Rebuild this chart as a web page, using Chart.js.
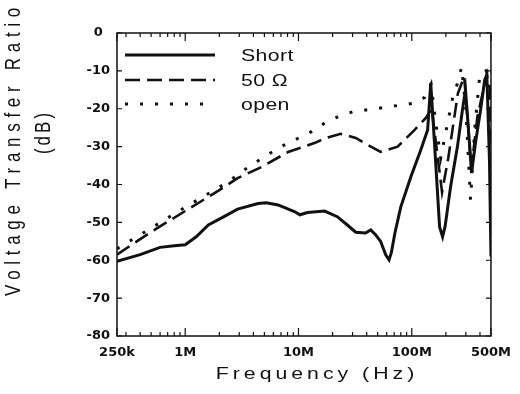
<!DOCTYPE html>
<html>
<head>
<meta charset="UTF-8">
<title>Voltage Transfer Ratio</title>
<script src="https://cdn.jsdelivr.net/npm/chart.js"></script>
<style>
  body { margin: 0; background: #fff; }
  canvas { display: block; }
</style>
</head>
<body>
<canvas id="chart" width="520" height="394"></canvas>
<script>
// frequency (Hz) and level (dB)
var freqShort = [250e3, 400e3, 600e3, 800e3, 1e6, 1.25e6, 1.6e6, 2.2e6, 2.9e6, 4.4e6, 5.2e6, 6.6e6, 9.3e6, 10.3e6, 12e6, 17e6, 22e6, 27e6, 32e6, 39e6, 43.5e6, 48e6, 53e6, 59e6, 63e6, 66e6, 71e6, 80e6, 98e6, 120e6, 138e6, 147e6, 162e6, 176e6, 187e6, 197e6, 220e6, 253e6, 280e6, 298e6, 323e6, 337e6, 365e6, 405e6, 440e6, 460e6, 485e6, 500e6];
var dbShort   = [-60.3, -58.5, -56.6, -56.2, -55.9, -53.8, -50.7, -48.5, -46.5, -45, -44.8, -45.4, -47.2, -48, -47.4, -47, -48.5, -50.7, -52.6, -52.8, -52, -53.3, -55, -58.6, -59.9, -58, -52.8, -45.9, -38, -30.9, -25.6, -13.2, -33.5, -51.2, -53.8, -51, -40.6, -30, -20.3, -15, -29, -37, -29, -20.3, -12.4, -11, -33.5, -59];

var freq50 = [250e3, 500e3, 1e6, 2e6, 2.9e6, 4.7e6, 8.1e6, 14e6, 17.5e6, 23.6e6, 32e6, 41e6, 53e6, 75e6, 106e6, 133e6, 150e6, 165e6, 185e6, 210e6, 255e6, 290e6, 315e6, 335e6, 380e6, 460e6, 490e6, 500e6];
var db50   = [-58.5, -52.5, -47, -41.5, -38.3, -35.4, -31.4, -29, -27.7, -26.6, -27.7, -29.6, -31.4, -30, -25.6, -22.4, -20, -30, -42, -33, -16, -11.5, -25, -36, -22, -11, -15, -30];

var freqOpen = [250e3, 500e3, 1e6, 2.4e6, 3.6e6, 6.6e6, 12.9e6, 17e6, 22e6, 30e6, 53e6, 106e6, 130e6, 140e6, 148e6, 160e6, 180e6, 200e6, 230e6, 255e6, 275e6, 300e6, 330e6, 360e6, 400e6, 450e6, 500e6];
var dbOpen   = [-57, -51.5, -46, -39.3, -35.4, -30.4, -26.1, -23.8, -22.2, -20.8, -19.8, -18.5, -17, -15, -13.5, -22, -33, -26, -17, -13, -9, -20, -44, -25, -10.6, -10, -12];

var seriesNames = ['Short', '50 \u03A9', 'open'];

// x tick marks (log axis) and the ones that carry a label
var xTickValues = [250e3, 300e3, 400e3, 500e3, 600e3, 700e3, 800e3, 900e3,
  1e6, 2e6, 3e6, 4e6, 5e6, 6e6, 7e6, 8e6, 9e6,
  1e7, 2e7, 3e7, 4e7, 5e7, 6e7, 7e7, 8e7, 9e7,
  1e8, 2e8, 3e8, 4e8, 5e8];
var xLabelValues = [250e3, 1e6, 1e7, 1e8, 5e8];
var xLabelTexts  = ['250k', '1M', '10M', '100M', '500M'];
var yMin = -80, yMax = 0, yStep = 10;

function points(xs, ys) {
  return xs.map(function (x, i) { return { x: x, y: ys[i] }; });
}

// text with horizontal stretch + letter spacing, like the scanned figure
function stretchText(ctx, text, x, y, o) {
  ctx.save();
  ctx.translate(x, y);
  ctx.scale(o.sx || 1, 1);
  if (o.rot) ctx.rotate(o.rot);
  ctx.font = o.font;
  ctx.letterSpacing = (o.spacing || 0) + 'px';
  ctx.fillStyle = '#111';
  ctx.textAlign = o.align || 'center';
  ctx.textBaseline = 'alphabetic';
  ctx.fillText(text, 0, 0);
  ctx.restore();
}

var framePlugin = {
  id: 'frame',
  afterDatasetsDraw: function (chart) {
    var ctx = chart.ctx, a = chart.chartArea;
    var xs = chart.scales.x, ys = chart.scales.y;
    ctx.save();
    ctx.strokeStyle = '#111';
    ctx.lineWidth = 1.5;
    ctx.setLineDash([]);
    ctx.strokeRect(a.left, a.top, a.right - a.left, a.bottom - a.top);

    // inward ticks, bottom and top
    ctx.lineWidth = 1.2;
    xTickValues.forEach(function (v) {
      var px = xs.getPixelForValue(v);
      var len = xLabelValues.indexOf(v) >= 0 ? 8 : 4;
      ctx.beginPath();
      ctx.moveTo(px, a.bottom); ctx.lineTo(px, a.bottom - len);
      ctx.moveTo(px, a.top); ctx.lineTo(px, a.top + len);
      ctx.stroke();
    });
    // inward ticks, left and right
    for (var v = yMin; v <= yMax; v += yStep) {
      var py = ys.getPixelForValue(v);
      ctx.beginPath();
      ctx.moveTo(a.left, py); ctx.lineTo(a.left + 5, py);
      ctx.moveTo(a.right, py); ctx.lineTo(a.right - 5, py);
      ctx.stroke();
    }

    // legend in the upper left of the plot
    var rows = [55, 80, 104];
    chart.data.datasets.forEach(function (ds, i) {
      ctx.strokeStyle = '#111';
      ctx.lineWidth = ds.borderWidth;
      ctx.lineCap = ds.borderCapStyle || 'butt';
      ctx.setLineDash(ds.borderDash || []);
      ctx.beginPath();
      ctx.moveTo(125, rows[i]); ctx.lineTo(215, rows[i]);
      ctx.stroke();
      stretchText(ctx, ds.label, 241, rows[i] + 6, { font: '17px "Liberation Sans", Arial', sx: 1.25, spacing: 0.3, align: 'left' });
    });
    ctx.restore();

    // axis titles
    stretchText(ctx, 'Voltage Transfer Ratio', 20, 149, { font: '17px "Liberation Sans", Arial', sx: 1.25, spacing: 5.7, rot: -Math.PI / 2 });
    stretchText(ctx, '(dB)', 50, 132, { font: '17px "Liberation Sans", Arial', sx: 1.25, spacing: 3, rot: -Math.PI / 2 });
    stretchText(ctx, 'Frequency (Hz)', 317, 379, { font: '17px "Liberation Sans", Arial', sx: 1.25, spacing: 3.2 });
  }
};

var ctx = document.getElementById('chart').getContext('2d');
new Chart(ctx, {
  type: 'line',
  data: {
    datasets: [{
      label: seriesNames[0],
      data: points(freqShort, dbShort),
      borderColor: '#111',
      borderWidth: 3
    }, {
      label: seriesNames[1],
      data: points(freq50, db50),
      borderColor: '#111',
      borderWidth: 2.6,
      borderDash: [15, 7]
    }, {
      label: seriesNames[2],
      data: points(freqOpen, dbOpen),
      borderColor: '#111',
      borderWidth: 3,
      borderDash: [3, 12]
    }]
  },
  options: {
    responsive: false,
    animation: false,
    devicePixelRatio: 1,
    elements: { point: { radius: 0 }, line: { tension: 0, fill: false } },
    layout: { padding: { left: 86, right: 26, top: 33, bottom: 28 } },
    plugins: { legend: { display: false }, tooltip: { enabled: false } },
    scales: {
      x: {
        type: 'logarithmic',
        min: 250e3,
        max: 5e8,
        afterBuildTicks: function (s) {
          s.ticks = xTickValues.map(function (v) { return { value: v }; });
        },
        afterFit: function (s) { s.height = 30; },
        grid: { display: false, drawTicks: false },
        border: { display: false },
        ticks: {
          autoSkip: false,
          maxRotation: 0,
          padding: 9,
          color: '#111',
          font: { family: 'DejaVu Sans', weight: 'bold', size: 13 },
          callback: function (v) {
            var k = xLabelValues.indexOf(v);
            return k >= 0 ? xLabelTexts[k] : '';
          }
        }
      },
      y: {
        min: yMin,
        max: yMax,
        afterFit: function (s) { s.width = 31; },
        grid: { display: false, drawTicks: false },
        border: { display: false },
        ticks: {
          stepSize: yStep,
          padding: 7,
          crossAlign: 'center',
          color: '#111',
          font: { family: 'DejaVu Sans', weight: 'bold', size: 13 }
        }
      }
    }
  },
  plugins: [framePlugin]
});
</script>
</body>
</html>
